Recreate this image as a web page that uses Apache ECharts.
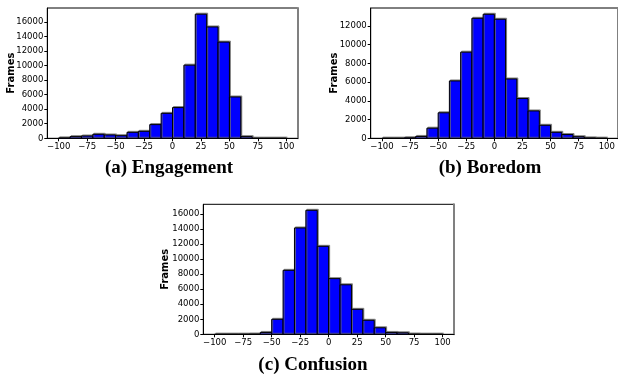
<!DOCTYPE html>
<html>
<head>
<meta charset="utf-8">
<script src="https://cdn.jsdelivr.net/npm/echarts@6/dist/echarts.min.js"></script>
<style>
html,body{margin:0;padding:0;background:#fff;}
#c{width:618px;height:377px;}
</style>
</head>
<body>
<div id="c"></div>
<script>
// Bin edges (width 10, from -100 to 100)
var binEdges = [-100,-90,-80,-70,-60,-50,-40,-30,-20,-10,0,10,20,30,40,50,60,70,80,90,100];
// Frame counts per bin
var engagement = [50, 230, 320, 550, 460, 360, 820, 960, 1880, 3430, 4220, 10050, 17050, 15300, 13220, 5680, 230, 0, 0, 0];
var boredom    = [0, 0, 50, 200, 1080, 2720, 6120, 9190, 12800, 13230, 12700, 6330, 4240, 2920, 1390, 640, 400, 170, 40, 0];
var confusion  = [0, 0, 0, 20, 250, 2000, 8530, 14180, 16530, 11730, 7420, 6600, 3330, 1870, 870, 250, 200, 20, 0, 0];
// Tick labels
var xTicks = [-100, -75, -50, -25, 0, 25, 50, 75, 100];
var yTicksA = [0, 2000, 4000, 6000, 8000, 10000, 12000, 14000, 16000];
var yTicksB = [0, 2000, 4000, 6000, 8000, 10000, 12000];
var yTicksC = [0, 2000, 4000, 6000, 8000, 10000, 12000, 14000, 16000];
var titles = ['(a) Engagement', '(b) Boredom', '(c) Confusion'];
var yName = 'Frames';

var chart = echarts.init(document.getElementById('c'), null, {renderer: 'canvas'});

function toData(counts) {
  var d = [];
  for (var i = 0; i < counts.length; i++) d.push([binEdges[i], binEdges[i + 1], counts[i]]);
  return d;
}
function fmt(v) { return String(v).replace('-', '\u2212'); }

var grids = [
  {left: 47.3, top: 8, width: 250.4, height: 130.3},
  {left: 370.7, top: 8, width: 250.4, height: 130.3},
  {left: 203.3, top: 204.3, width: 250.7, height: 130}
];
var yMax = [17900, 13900, 17330];
var yTicks = [yTicksA, yTicksB, yTicksC];
var nameGaps = [31, 31, 33];
var series = [engagement, boredom, confusion];

var labelFont = {fontFamily: 'DejaVu Sans', fontSize: 8.5, color: '#000'};

var option = {
  animation: false,
  backgroundColor: '#fff',
  grid: grids.map(function (g) {
    return Object.assign({show: true, borderColor: '#000', borderWidth: 1, backgroundColor: 'transparent', containLabel: false}, g);
  }),
  xAxis: grids.map(function (g, i) {
    return {
      type: 'value', gridIndex: i, min: -110, max: 110, position: 'bottom',
      axisLine: {show: true, onZero: false, lineStyle: {color: '#000', width: 1}},
      axisTick: {show: true, length: 3, customValues: xTicks, lineStyle: {color: '#000'}},
      axisLabel: Object.assign({show: true, margin: 4, customValues: xTicks, formatter: fmt}, labelFont),
      splitLine: {show: false}
    };
  }),
  yAxis: [].concat(grids.map(function (g, i) {
    return {
      type: 'value', gridIndex: i, min: 0, max: yMax[i], position: 'left',
      name: yName, nameLocation: 'middle', nameGap: nameGaps[i], nameRotate: 90, nameMoveOverlap: false,
      nameTextStyle: {fontFamily: 'DejaVu Sans', fontWeight: 'bold', fontSize: 10, color: '#000'},
      axisLine: {show: true, onZero: false, lineStyle: {color: '#000', width: 1}},
      axisTick: {show: true, length: 3, customValues: yTicks[i], lineStyle: {color: '#000'}},
      axisLabel: Object.assign({show: true, margin: 4, customValues: yTicks[i], formatter: function (v) { return String(v); }}, labelFont),
      splitLine: {show: false}
    };
  }), grids.map(function (g, i) {
    return {
      type: 'value', gridIndex: i, min: 0, max: yMax[i], position: 'right',
      axisLine: {show: true, onZero: false, lineStyle: {color: '#808080', width: 2}},
      axisTick: {show: false}, axisLabel: {show: false}, splitLine: {show: false}
    };
  })),
  series: series.map(function (s, i) {
    return {
      type: 'custom', xAxisIndex: i, yAxisIndex: i, clip: true,
      data: toData(s),
      renderItem: function (params, api) {
        var p0 = api.coord([api.value(0), api.value(2)]);
        var p1 = api.coord([api.value(1), 0]);
        return {
          type: 'rect',
          shape: {x: p0[0], y: p0[1], width: p1[0] - p0[0], height: p1[1] - p0[1]},
          style: {fill: '#0000ff', stroke: '#000', lineWidth: 1,
                  shadowColor: 'rgba(110,110,110,0.8)', shadowBlur: 0, shadowOffsetX: 1, shadowOffsetY: -1}
        };
      }
    };
  }),
  graphic: [
    {type: 'text', x: 169, y: 168, style: {text: titles[0], font: 'bold 19px "Liberation Serif"', fill: '#000', textAlign: 'center', textVerticalAlign: 'middle'}},
    {type: 'text', x: 490, y: 168, style: {text: titles[1], font: 'bold 19px "Liberation Serif"', fill: '#000', textAlign: 'center', textVerticalAlign: 'middle'}},
    {type: 'text', x: 313, y: 365, style: {text: titles[2], font: 'bold 19px "Liberation Serif"', fill: '#000', textAlign: 'center', textVerticalAlign: 'middle'}}
  ]
};
chart.setOption(option);
</script>
</body>
</html>
